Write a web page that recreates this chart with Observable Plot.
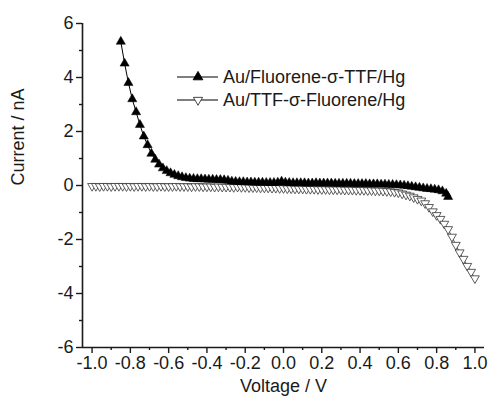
<!DOCTYPE html>
<html>
<head>
<meta charset="utf-8">
<script src="https://cdn.jsdelivr.net/npm/d3@7"></script>
<script src="https://cdn.jsdelivr.net/npm/@observablehq/plot@0.6"></script>
<style>
  html, body { margin: 0; padding: 0; background: #fff; }
  #chart { width: 488px; height: 401px; }
</style>
</head>
<body>
<div id="chart"></div>
<script>
// ---- Data ----
const seriesNames = ["Au/Fluorene-\u03c3-TTF/Hg", "Au/TTF-\u03c3-Fluorene/Hg"];

const volt1 = [-0.85,-0.83,-0.81,-0.79,-0.77,-0.75,-0.73,-0.71,-0.69,-0.67,-0.65,-0.63,-0.61,-0.59,-0.57,-0.55,-0.53,-0.51,-0.49,-0.47,-0.45,-0.43,-0.41,-0.39,-0.37,-0.35,-0.33,-0.31,-0.29,-0.27,-0.25,-0.23,-0.21,-0.19,-0.17,-0.15,-0.13,-0.11,-0.09,-0.07,-0.05,-0.03,-0.01,0.01,0.03,0.05,0.07,0.09,0.11,0.13,0.15,0.17,0.19,0.21,0.23,0.25,0.27,0.29,0.31,0.33,0.35,0.37,0.39,0.41,0.43,0.45,0.47,0.49,0.51,0.53,0.55,0.57,0.59,0.61,0.63,0.65,0.67,0.69,0.71,0.73,0.75,0.77,0.79,0.81,0.83,0.85,0.86];
const curr1 = [5.33,4.52,3.80,3.20,2.72,2.25,1.82,1.50,1.18,0.96,
               0.78,0.64,0.54,0.46,0.40,0.35,0.31,0.28,0.26,0.25,
               0.24,0.24,0.23,0.22,0.22,0.21,0.21,0.20,0.18,0.15,
               0.14,0.13,0.13,0.12,0.12,0.11,0.11,0.11,0.10,0.10,
               0.10,0.11,0.15,0.11,0.10,0.09,0.09,0.09,0.09,0.08,
               0.08,0.09,0.08,0.08,0.08,0.08,0.07,0.07,0.07,0.07,
               0.07,0.06,0.06,0.06,0.06,0.05,0.05,0.05,0.04,0.04,
               0.03,0.03,0.02,0.01,0.00,-0.02,-0.04,-0.06,-0.08,-0.10,
               -0.12,-0.13,-0.15,-0.17,-0.21,-0.30,-0.42];

const volt2 = [-1.00,-0.98,-0.96,-0.94,-0.92,-0.90,-0.88,-0.86,-0.84,-0.82,-0.80,-0.78,-0.76,-0.74,-0.72,-0.70,-0.68,-0.66,-0.64,-0.62,-0.60,-0.58,-0.56,-0.54,-0.52,-0.50,-0.48,-0.46,-0.44,-0.42,-0.40,-0.38,-0.36,-0.34,-0.32,-0.30,-0.28,-0.26,-0.24,-0.22,-0.20,-0.18,-0.16,-0.14,-0.12,-0.10,-0.08,-0.06,-0.04,-0.02,0.00,0.02,0.04,0.06,0.08,0.10,0.12,0.14,0.16,0.18,0.20,0.22,0.24,0.26,0.28,0.30,0.32,0.34,0.36,0.38,0.40,0.42,0.44,0.46,0.48,0.50,0.52,0.54,0.56,0.58,0.60,0.62,0.64,0.66,0.68,0.70,0.72,0.74,0.76,0.78,0.80,0.82,0.84,0.86,0.88,0.90,0.92,0.94,0.96,0.98,1.00];
const curr2 = [-0.02,-0.02,-0.03,-0.02,-0.02,-0.03,-0.02,-0.02,-0.02,-0.03,
               -0.02,-0.03,-0.02,-0.02,-0.03,-0.02,-0.03,-0.03,-0.02,-0.03,
               -0.03,-0.03,-0.02,-0.03,-0.03,-0.03,-0.04,-0.03,-0.03,-0.04,
               -0.04,-0.04,-0.05,-0.04,-0.05,-0.05,-0.05,-0.06,-0.05,-0.06,
               -0.06,-0.07,-0.07,-0.07,-0.08,-0.08,-0.08,-0.09,-0.09,-0.10,
               -0.10,-0.11,-0.11,-0.12,-0.12,-0.12,-0.13,-0.13,-0.13,-0.14,
               -0.14,-0.14,-0.15,-0.15,-0.15,-0.15,-0.16,-0.16,-0.16,-0.17,
               -0.17,-0.17,-0.18,-0.18,-0.19,-0.19,-0.20,-0.21,-0.22,-0.24,
               -0.26,-0.30,-0.34,-0.38,-0.44,-0.50,-0.56,-0.66,-0.80,-0.96,
               -1.10,-1.24,-1.42,-1.62,-1.90,-2.20,-2.48,-2.72,-2.98,-3.20,-3.44];

const xTicks = [-1.0,-0.8,-0.6,-0.4,-0.2,0.0,0.2,0.4,0.6,0.8,1.0];
const xMinorTicks = [-0.9,-0.7,-0.5,-0.3,-0.1,0.1,0.3,0.5,0.7,0.9];
const yTicks = [-6,-4,-2,0,2,4,6];
const yMinorTicks = [-5,-3,-1,1,3,5];
const xLabel = "Voltage / V";
const yLabel = "Current / nA";

// ---- Build ----
const data1 = volt1.map((v, i) => ({v, c: curr1[i]}));
const data2 = volt2.map((v, i) => ({v, c: curr2[i]}));

const triDown = {
  draw(ctx, size) {
    const y = -Math.sqrt(size / (Math.sqrt(3) * 3));
    ctx.moveTo(0, -y * 2);
    ctx.lineTo(Math.sqrt(3) * y, y);
    ctx.lineTo(-Math.sqrt(3) * y, y);
    ctx.closePath();
  }
};

const FONT = "'Liberation Sans', Arial, sans-serif";
const ink = "#1a1a1a";
const fmtX = d => d.toFixed(1);  // hyphen-minus, as in the reference

const chart = Plot.plot({
  width: 488,
  height: 401,
  marginLeft: 82,
  marginRight: 4,
  marginTop: 23,
  marginBottom: 54,
  style: {fontFamily: FONT, fontSize: "18px", color: ink, background: "#fff", overflow: "visible"},
  x: {domain: [-1.05, 1.05]},
  y: {domain: [-6, 6]},
  marks: [
    // axis lines
    Plot.ruleY([-6], {stroke: ink, strokeWidth: 1.6}),
    Plot.ruleX([-1.05], {stroke: ink, strokeWidth: 1.6}),
    Plot.axisX(xTicks, {tickSize: 6, tickPadding: 3, tickFormat: fmtX, label: null, strokeWidth: 1.4, fill: ink}),
    Plot.axisX(xMinorTicks, {tickSize: 3, tickFormat: () => "", label: null, strokeWidth: 1.4}),
    Plot.axisY(yTicks, {tickSize: 6, tickPadding: 3, tickFormat: d => String(d), label: null, strokeWidth: 1.4, fill: ink}),
    Plot.axisY(yMinorTicks, {tickSize: 3, tickFormat: () => "", label: null, strokeWidth: 1.4}),
    Plot.text([xLabel], {frameAnchor: "bottom", dy: 44, fontSize: 18, fill: ink}),
    Plot.text([yLabel], {frameAnchor: "left", rotate: -90, dx: -64, fontSize: 18, fill: ink}),
    // series 2 (open down triangles)
    Plot.line(data2, {x: "v", y: "c", stroke: "#333", strokeWidth: 0.8}),
    Plot.dot(data2, {x: "v", y: "c", symbol: triDown, r: 3.3, fill: "#fff", stroke: "#333", strokeWidth: 0.8}),
    // series 1 (filled up triangles)
    Plot.line(data1, {x: "v", y: "c", stroke: "#000", strokeWidth: 1}),
    Plot.dot(data1, {x: "v", y: "c", symbol: "triangle", r: 3.4, fill: "#000", stroke: "#000", strokeWidth: 0.5})
  ]
});

// ---- Legend (inside the plot area, upper middle) ----
const svg = d3.select(chart);
const leg = svg.append("g")
  .attr("font-family", FONT).attr("font-size", 18).attr("fill", ink)
  .attr("text-anchor", "start");
const rows = [
  {name: seriesNames[0], y: 77, sym: d3.symbol(d3.symbolTriangle, Math.PI * 3.6 * 3.6)(), fill: "#000", stroke: "#000"},
  {name: seriesNames[1], y: 100, sym: d3.symbol(triDown, Math.PI * 3.4 * 3.4)(), fill: "#fff", stroke: "#333"}
];
rows.forEach(r => {
  const g = leg.append("g").attr("transform", `translate(0,${r.y})`);
  g.append("line").attr("x1", 177).attr("x2", 218).attr("y1", 0).attr("y2", 0).attr("stroke", "#000").attr("stroke-width", 1.2);
  g.append("path").attr("d", r.sym).attr("transform", "translate(198,0)").attr("fill", r.fill).attr("stroke", r.stroke).attr("stroke-width", 0.9);
  g.append("text").attr("x", 223).attr("y", 0).attr("dy", "0.35em").attr("text-anchor", "start").text(r.name);
});

document.getElementById("chart").appendChild(chart);
</script>
</body>
</html>
